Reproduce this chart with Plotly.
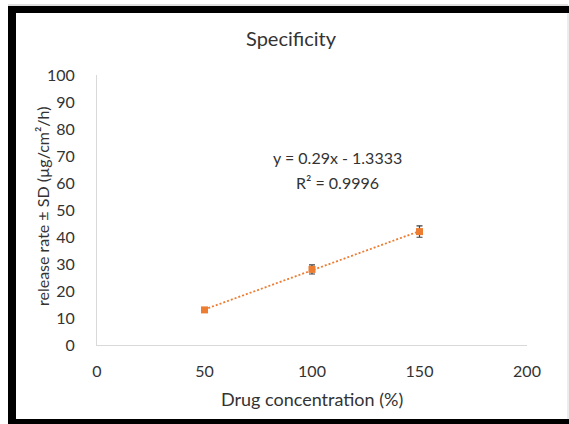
import numpy as np
import plotly.graph_objects as go

concentration = [50, 100, 150]
release_rate = [13, 28, 42]
release_sd = [0.5, 1.7, 2.1]
title_text = "Specificity"
x_title = "Drug concentration (%)"
y_title = "release rate ± SD (µg/cm²/h)"

W, H = 569, 424
L, R, T, B = 97, 527, 75, 345  # plot area pixels


def px(x):
    return (x - L) / (R - L)


def py(y):
    return (B - y) / (B - T)


slope, intercept = np.polyfit(concentration, release_rate, 1)
pred = np.polyval([slope, intercept], concentration)
ss_res = np.sum((np.array(release_rate) - pred) ** 2)
ss_tot = np.sum((np.array(release_rate) - np.mean(release_rate)) ** 2)
r2 = 1 - ss_res / ss_tot
trend_x = [min(concentration), max(concentration)]
trend_y = list(np.polyval([slope, intercept], trend_x))

FONT = "Lato"
TXT = "#333333"
ORANGE = "#ED7D31"

fig = go.Figure()
fig.add_trace(go.Scatter(
    x=trend_x, y=trend_y, mode="lines",
    line=dict(color=ORANGE, width=1.8, dash="2px,2px"),
    hoverinfo="skip", showlegend=False,
))
fig.add_trace(go.Scatter(
    x=concentration, y=release_rate, mode="markers",
    marker=dict(symbol="square", size=7, color=ORANGE),
    error_y=dict(type="data", array=release_sd, visible=True,
                 color="#404040", thickness=1.2, width=3),
    showlegend=False,
))

axis_common = dict(showgrid=False, zeroline=False, showline=True,
                   linecolor="#D9D9D9", linewidth=1, ticks="",
                   tickfont=dict(family=FONT, size=16, color=TXT))
fig.update_xaxes(range=[0, 200], dtick=50, tick0=0, ticklabelstandoff=12, **axis_common)
fig.update_yaxes(range=[0, 100], dtick=10, tick0=0, ticklabelstandoff=18, **axis_common)

annotations = [
    dict(text=title_text, x=px(291.5), y=py(38), font=dict(size=20, color=TXT)),
    dict(text=x_title, x=0.5, y=py(399), font=dict(size=18, color=TXT)),
    dict(text=y_title, x=px(42), y=py(207), textangle=-90, font=dict(size=16, color=TXT)),
    dict(text=f"y = {slope:.2f}x - {abs(intercept):.4f}", x=px(337), y=py(157),
         font=dict(size=16, color=TXT)),
    dict(text=f"R² = {r2:.4f}", x=px(337), y=py(182), font=dict(size=16, color=TXT)),
]
for a in annotations:
    a.update(xref="paper", yref="paper", showarrow=False, xanchor="center", yanchor="middle")
    a["font"]["family"] = FONT

shapes = [
    dict(type="line", x0=px(8), x1=px(568), y0=py(5), y1=py(5), line=dict(color="#BFBFBF", width=1)),
    dict(type="line", x0=px(568), x1=px(568), y0=py(5), y1=py(419), line=dict(color="#D9D9D9", width=1)),
    dict(type="rect", x0=px(8), x1=px(16), y0=py(6), y1=py(424), fillcolor="black", line=dict(width=0)),
    dict(type="rect", x0=px(8), x1=px(569), y0=py(6), y1=py(13), fillcolor="black", line=dict(width=0)),
    dict(type="rect", x0=px(8), x1=px(569), y0=py(419), y1=py(424), fillcolor="black", line=dict(width=0)),
]
for s in shapes:
    s.update(xref="paper", yref="paper", layer="above")

fig.update_layout(
    width=W, height=H,
    margin=dict(l=L, r=W - R, t=T, b=H - B, pad=0),
    paper_bgcolor="white", plot_bgcolor="white",
    annotations=annotations, shapes=shapes,
    font=dict(family=FONT, color=TXT),
)
fig.write_html("out.html", config={"displayModeBar": False},
               post_script="document.body.style.margin='0';document.body.style.overflow='hidden';")
